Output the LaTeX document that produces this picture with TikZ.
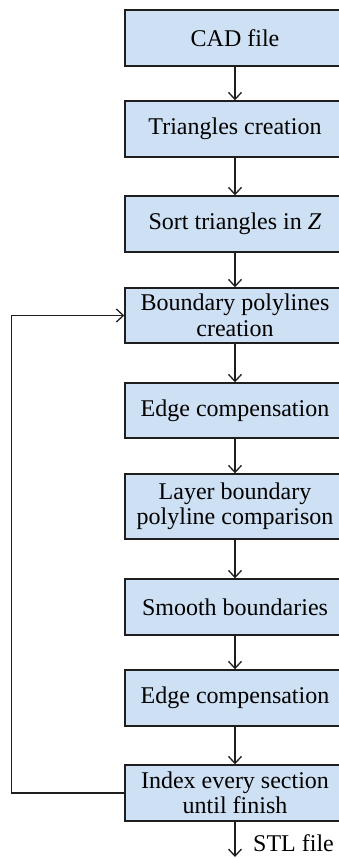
\documentclass[tikz,border=0pt]{standalone}
\usepackage{fontspec}
\setmainfont{Liberation Serif}
\usetikzlibrary{arrows.meta}
\definecolor{boxfill}{RGB}{206,224,243}
\definecolor{linec}{RGB}{30,30,30}
\tikzset{
  box/.style={draw=linec, line width=1.4pt, fill=boxfill, minimum width=220pt,
    align=center, inner sep=2pt, font=\fontsize{24}{25.5}\selectfont},
  arr/.style={draw=linec, line width=1.3pt, -{Straight Barb[length=7pt,width=13pt,line width=1.3pt]}},
  lbl/.style={font=\fontsize{24}{25}\selectfont, inner sep=0pt}
}
\begin{document}
\begin{tikzpicture}[x=1pt,y=-1pt]
\useasboundingbox (0,0) rectangle (339,858);
\node[box, minimum height=56pt] (b1) at (235,38) {CAD file};
\node[box, minimum height=56pt] (b2) at (235,129) {Triangles creation};
\node[box, minimum height=56pt] (b3) at (235,224) {Sort triangles in \textit{Z}};
\node[box, minimum height=55pt] (b4) at (235,315.5) {Boundary polylines\\creation};
\node[box, minimum height=55pt] (b5) at (235,410.5) {Edge compensation};
\node[box, minimum height=65pt] (b6) at (235,506.5) {Layer boundary\\polyline comparison};
\node[box, minimum height=56pt] (b7) at (235,607) {Smooth boundaries};
\node[box, minimum height=56pt] (b8) at (235,698) {Edge compensation};
\node[box, minimum height=56pt] (b9) at (235,793) {Index every section\\until finish};
\coordinate (stl) at (235,857);
\node[lbl, anchor=west] (stltxt) at (253,843) {STL file};
\draw[arr] (b1) -- (b2);
\draw[arr] (b2) -- (b3);
\draw[arr] (b3) -- (b4);
\draw[arr] (b4) -- (b5);
\draw[arr] (b5) -- (b6);
\draw[arr] (b6) -- (b7);
\draw[arr] (b7) -- (b8);
\draw[arr] (b8) -- (b9);
\draw[arr] (b9) -- (stl);
\draw[arr] (b9.west) -- ++(-113,0) |- (b4.west);
\end{tikzpicture}
\end{document}
